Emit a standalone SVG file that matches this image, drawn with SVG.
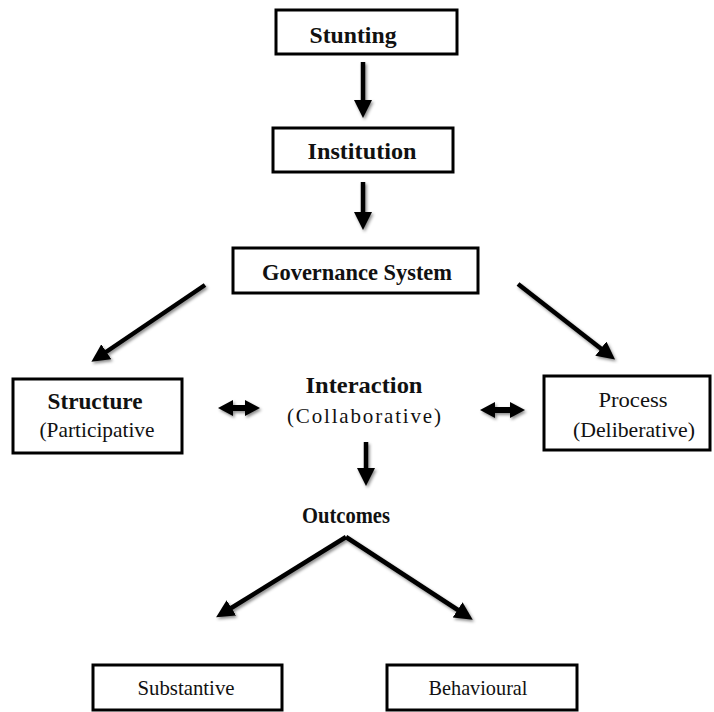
<svg xmlns="http://www.w3.org/2000/svg" width="714" height="712" viewBox="0 0 714 712">
<style>
.box{fill:#fff;stroke:#000;stroke-width:3}
.b{font-family:"Liberation Serif","Times New Roman",serif;font-weight:bold;font-size:23px;fill:#111;text-anchor:middle}
.r{font-family:"Liberation Serif","Times New Roman",serif;font-size:21px;fill:#111;text-anchor:middle}
.arr{stroke:#000;stroke-width:4.5;fill:none;marker-end:url(#ah)}
</style>
<defs>
<filter id="sh" filterUnits="userSpaceOnUse" x="0" y="0" width="714" height="712">
<feDropShadow dx="1.5" dy="2" stdDeviation="1.5" flood-color="#000" flood-opacity="0.45"/>
</filter>
<marker id="ah" markerUnits="userSpaceOnUse" markerWidth="20" markerHeight="18" refX="4" refY="9" orient="auto">
<path d="M0,0 L18,9 L0,18 z" fill="#000"/>
</marker>
</defs>
<rect width="714" height="712" fill="#fff"/>
<g id="connectors" filter="url(#sh)">
<line class="arr" x1="363" y1="62" x2="363" y2="104"/>
<line class="arr" x1="363" y1="182" x2="363" y2="216"/>
<line class="arr" x1="205" y1="285" x2="103" y2="354"/>
<line class="arr" x1="518" y1="284" x2="604" y2="351"/>
<line class="arr" x1="366" y1="442" x2="366" y2="472"/>
<line class="arr" x1="346" y1="537" x2="228" y2="610"/>
<line class="arr" x1="346" y1="537" x2="461" y2="612"/>
<polygon points="218,408 233,400 233,405 245,405 245,400 260,408 245,416 245,411 233,411 233,416" fill="#000"/>
<polygon points="480,410 495,402 495,407 510,407 510,402 525,410 510,418 510,413 495,413 495,418" fill="#000"/>
</g>
<g id="stunting">
<rect class="box" x="276" y="10" width="181" height="44"/>
<text class="b" x="353" y="43" textLength="87" lengthAdjust="spacingAndGlyphs">Stunting</text>
</g>
<g id="institution">
<rect class="box" x="273" y="128" width="180" height="44"/>
<text class="b" x="362" y="159" textLength="109" lengthAdjust="spacingAndGlyphs">Institution</text>
</g>
<g id="governance">
<rect class="box" x="233" y="248" width="245" height="45"/>
<text class="b" x="357" y="280" textLength="190" lengthAdjust="spacingAndGlyphs">Governance System</text>
</g>
<g id="structure">
<rect class="box" x="13" y="379" width="169" height="74"/>
<text class="b" x="95" y="409" textLength="95" lengthAdjust="spacingAndGlyphs">Structure</text>
<text class="r" x="97" y="437" textLength="115" lengthAdjust="spacingAndGlyphs">(Participative</text>
</g>
<g id="interaction">
<text class="b" x="364" y="393" textLength="117" lengthAdjust="spacingAndGlyphs">Interaction</text>
<text class="r" x="364" y="423" textLength="154" lengthAdjust="spacing">(Collaborative)</text>
</g>
<g id="process">
<rect class="box" x="544" y="376" width="166" height="74"/>
<text class="r" x="633" y="407" font-size="22" textLength="69" lengthAdjust="spacingAndGlyphs">Process</text>
<text class="r" x="634" y="437" textLength="122" lengthAdjust="spacingAndGlyphs">(Deliberative)</text>
</g>
<g id="outcomes">
<text class="b" x="346" y="523" font-size="21" textLength="88" lengthAdjust="spacingAndGlyphs">Outcomes</text>
</g>
<g id="substantive">
<rect class="box" x="93" y="665" width="189" height="45"/>
<text class="r" x="186" y="695" textLength="97" lengthAdjust="spacingAndGlyphs">Substantive</text>
</g>
<g id="behavioural">
<rect class="box" x="387" y="665" width="190" height="45"/>
<text class="r" x="478" y="695" textLength="99" lengthAdjust="spacingAndGlyphs">Behavioural</text>
</g>
</svg>
